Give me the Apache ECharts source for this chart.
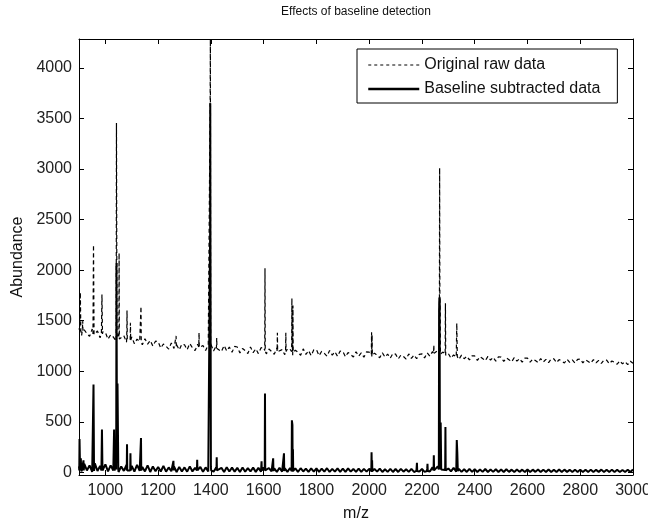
<!DOCTYPE html>
<html><head><meta charset="utf-8">
<script src="https://cdn.jsdelivr.net/npm/echarts@6/dist/echarts.min.js"></script>
<style>html,body{margin:0;padding:0;background:#fff}#c{width:648px;height:518px}</style>
</head><body><div id="c"></div>
<script>
// m/z grid of the background readings (every 10 m/z from 900 to 3000)
const mzStart = 900, mzStep = 10;

// Original raw data: background readings (one per grid step)
const rawBackground = [
  1425,1355,1410,1372,1345,1418,1350,1398,1332,1390,
  1385,1318,1362,1340,1298,1366,1310,1352,1288,1335,
  1340,1272,1318,1296,1262,1322,1268,1305,1250,1298,
  1292,1230,1270,1248,1220,1280,1226,1262,1212,1270,
  1262,1214,1275,1232,1205,1268,1218,1255,1206,1262,
  1268,1200,1250,1228,1195,1255,1202,1240,1188,1246,
  1240,1182,1226,1205,1176,1240,1184,1222,1175,1232,
  1236,1172,1220,1196,1168,1230,1178,1214,1165,1224,
  1218,1160,1208,1188,1158,1222,1166,1205,1156,1212,
  1214,1155,1198,1178,1150,1205,1160,1194,1148,1200,
  1196,1144,1186,1166,1142,1194,1150,1182,1140,1192,
  1190,1138,1180,1158,1134,1182,1140,1170,1130,1176,
  1170,1122,1160,1146,1120,1172,1128,1160,1124,1168,
  1172,1132,1182,1150,1195,1162,1205,1172,1190,1158,
  1175,1130,1162,1142,1118,1160,1124,1150,1112,1154,
  1152,1108,1145,1126,1104,1148,1110,1138,1100,1144,
  1140,1098,1132,1115,1094,1136,1100,1126,1090,1130,
  1130,1090,1122,1106,1086,1126,1092,1118,1085,1122,
  1124,1086,1116,1100,1082,1120,1088,1112,1082,1118,
  1122,1084,1114,1098,1080,1116,1084,1108,1078,1112,
  1110,1076,1102,1088,1070,1104,1074,1096,1066,1100,
  1080
];

// Baseline subtracted data: background readings (one per grid step)
const subBackground = [
  60,10,85,20,70,5,90,15,65,25,
  80,10,70,20,85,5,60,15,75,10,
  65,8,75,15,55,10,70,5,60,12,
  55,10,65,8,50,12,60,5,55,10,
  50,8,60,10,45,12,55,6,50,10,
  55,8,50,10,45,5,52,10,48,8,
  45,5,50,8,42,10,48,6,45,8,
  48,6,44,10,40,5,46,8,42,6,
  44,8,40,5,42,10,38,6,40,8,
  40,6,38,8,42,5,36,8,40,6,
  38,5,40,8,35,6,38,5,36,8,
  36,6,34,8,38,5,32,6,35,5,
  34,5,36,8,32,6,35,5,30,8,
  35,6,40,10,50,20,60,30,45,20,
  40,10,45,8,35,6,32,5,35,6,
  32,5,30,6,34,5,30,6,32,5,
  30,5,32,6,28,5,30,6,28,5,
  30,5,28,6,30,5,28,4,30,5,
  28,5,30,4,28,6,26,5,28,4,
  28,5,26,4,28,5,26,6,28,4,
  26,4,28,5,26,4,25,5,26,4,
  30
];

// Original raw data: peak readings [m/z, abundance]
const rawPeaks = [
  [903,1400],[905,1780],[907,1390],
  [913,1420],[914,1500],[915,1390],
  [953,1370],[955,2250],[957,1365],
  [985,1380],[987,1760],[989,1370],
  [1041,1340],[1042,3455],[1044,1330],
  [1051,1330],[1052,2170],[1053,1320],
  [1081,1330],[1082,1600],[1083,1325],
  [1094,1310],[1095,1480],[1096,1305],
  [1134,1290],[1135,1640],[1136,1285],
  [1267,1245],[1268,1350],[1269,1240],
  [1354,1240],[1355,1380],[1356,1235],
  [1396,1245],[1397,3650],[1398,4280],[1399,1240],
  [1421,1230],[1422,1330],[1423,1225],
  [1604,1205],[1605,2020],[1606,1200],
  [1651,1200],[1652,1380],[1653,1195],
  [1683,1200],[1684,1380],[1685,1195],
  [1706,1195],[1707,1720],[1708,1300],[1711,1650],[1712,1190],
  [2008,1165],[2009,1385],[2011,1360],[2012,1160],
  [2244,1175],[2245,1260],[2246,1178],
  [2266,1180],[2267,3010],[2268,1600],[2269,1730],[2271,1170],
  [2288,1170],[2289,1673],[2291,1165],
  [2331,1150],[2332,1475],[2334,1145]
];

// Baseline subtracted data: peak readings [m/z, abundance]
const subPeaks = [
  [901,20],[902,330],[904,40],
  [906,30],[907,140],[908,30],
  [916,20],[917,120],[918,20],
  [953,20],[955,870],[957,15],
  [985,20],[987,425],[989,20],
  [1031,20],[1033,425],[1035,20],
  [1041,30],[1042,2070],[1044,200],[1046,880],[1048,300],[1049,30],
  [1081,20],[1082,280],[1083,20],
  [1094,20],[1095,190],[1096,20],
  [1134,20],[1135,340],[1136,20],
  [1257,20],[1258,115],[1259,20],
  [1347,20],[1348,125],[1349,20],
  [1396,20],[1397,2360],[1397.6,3650],[1398.2,2360],[1401,20],
  [1421,20],[1422,150],[1423,20],
  [1591,20],[1592,110],[1593,20],
  [1604,20],[1605,780],[1606,20],
  [1635,15],[1636,140],[1637,15],
  [1676,15],[1677,190],[1678,15],
  [1706,15],[1707,515],[1709,470],[1711,230],[1712,15],
  [2008,15],[2009,200],[2011,120],[2012,15],
  [2179,15],[2181,95],[2182,15],
  [2219,15],[2221,85],[2222,15],
  [2244,20],[2245,170],[2246,20],
  [2264,30],[2265,1600],[2266,1730],[2267,1600],[2268,100],[2271,495],[2273,30],
  [2288,25],[2289,450],[2291,25],
  [2331,15],[2332,320],[2334,200],[2336,15]
];

const xTicks = [1000,1200,1400,1600,1800,2000,2200,2400,2600,2800,3000];
const yTicks = [0,500,1000,1500,2000,2500,3000,3500,4000];

function buildSeries(bg, peaks) {
  const pts = bg.map((v, i) => [mzStart + i * mzStep, v]);
  peaks.forEach(p => pts.push(p));
  pts.sort((a, b) => a[0] - b[0]);
  return pts;
}

const FONT = "'Liberation Sans', Arial, Helvetica, sans-serif";
const chart = echarts.init(document.getElementById('c'), null, {renderer: 'canvas'});

const axisCommon = {
  type: 'value',
  splitLine: {show: false},
  axisLine: {show: true, onZero: false, lineStyle: {color: '#000', width: 1}}
};
const plain = v => String(v);

chart.setOption({
  animation: false,
  backgroundColor: '#fff',
  grid: {left: 79, right: 15, top: 39, bottom: 43, containLabel: false, outerBoundsMode: 'none'},
  graphic: [{
    type: 'text', x: 356, y: 6,
    style: {text: 'Effects of baseline detection', textAlign: 'center', fill: '#111',
            font: "12px " + FONT}
  }],
  legend: {
    data: [
      {name: 'Original raw data', lineStyle: {width: 1, type: [3, 3], color: '#000'}},
      {name: 'Baseline subtracted data', lineStyle: {width: 2.5, type: 'solid', color: '#000'}}
    ],
    orient: 'vertical', left: 357, top: 49,
    padding: [8, 17, 6, 10], itemGap: 8, itemWidth: 51, itemHeight: 14,
    borderColor: '#000', borderWidth: 1, backgroundColor: '#fff',
    itemStyle: {color: 'rgba(0,0,0,0)', borderColor: 'rgba(0,0,0,0)', borderWidth: 0, opacity: 0},
    textStyle: {fontSize: 16, color: '#111', fontFamily: FONT}
  },
  xAxis: [
    Object.assign({}, axisCommon, {
      min: 900, max: 3000, position: 'bottom',
      axisTick: {show: true, inside: true, length: 5, customValues: xTicks, lineStyle: {color: '#000'}},
      axisLabel: {show: true, customValues: xTicks, formatter: plain, fontSize: 16, color: '#222', margin: 8, fontFamily: FONT},
      name: 'm/z', nameLocation: 'middle', nameGap: 31,
      nameTextStyle: {fontSize: 16, color: '#111', fontFamily: FONT}
    }),
    Object.assign({}, axisCommon, {
      min: 900, max: 3000, position: 'top',
      axisTick: {show: true, inside: true, length: 5, customValues: xTicks, lineStyle: {color: '#000'}},
      axisLabel: {show: false}
    })
  ],
  yAxis: [
    Object.assign({}, axisCommon, {
      min: -25, max: 4285, position: 'left',
      axisTick: {show: true, inside: true, length: 5, customValues: yTicks, lineStyle: {color: '#000'}},
      axisLabel: {show: true, customValues: yTicks, formatter: plain, fontSize: 16, color: '#222', margin: 7, fontFamily: FONT},
      name: 'Abundance', nameLocation: 'middle', nameGap: 50,
      nameTextStyle: {fontSize: 16, color: '#111', fontFamily: FONT}
    }),
    Object.assign({}, axisCommon, {
      min: -25, max: 4285, position: 'right',
      axisTick: {show: true, inside: true, length: 5, customValues: yTicks, lineStyle: {color: '#000'}},
      axisLabel: {show: false}
    })
  ],
  series: [
    {
      name: 'Original raw data', type: 'line', xAxisIndex: 0, yAxisIndex: 0,
      data: buildSeries(rawBackground, rawPeaks),
      symbol: 'none', showSymbol: false, clip: true,
      lineStyle: {color: '#000', width: 1.2, type: [4, 3], join: 'bevel'},
      itemStyle: {color: '#000'}
    },
    {
      name: 'Baseline subtracted data', type: 'line', xAxisIndex: 0, yAxisIndex: 0,
      data: buildSeries(subBackground, subPeaks),
      symbol: 'none', showSymbol: false, clip: true,
      lineStyle: {color: '#000', width: 2, type: 'solid', join: 'bevel'},
      itemStyle: {color: '#000'}
    }
  ]
});
</script>
</body></html>
